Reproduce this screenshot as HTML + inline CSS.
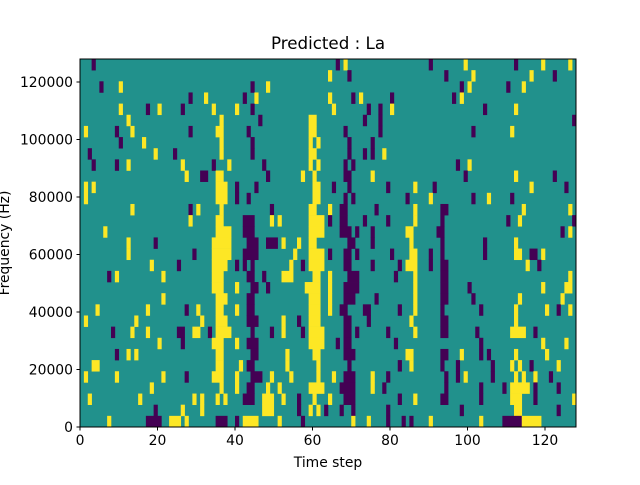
<!DOCTYPE html>
<html><head><meta charset="utf-8"><style>
body{margin:0;background:#fff;width:640px;height:480px;overflow:hidden;font-family:"Liberation Sans","DejaVu Sans",sans-serif}
svg text{font-family:"DejaVu Sans","Liberation Sans",sans-serif;fill:#000}
</style></head><body>
<svg id="s" width="640" height="480" xmlns="http://www.w3.org/2000/svg">
<rect x="0" y="0" width="640" height="480" fill="#fff"/>
<rect x="80" y="59" width="496" height="368" fill="#21918c"/>
<g id="cells"></g>
<rect x="80" y="59" width="496" height="368" fill="none" stroke="#000" stroke-width="1"/>
<g id="ticks"></g>
<text x="328" y="49" font-size="16.7" text-anchor="middle">Predicted : La</text>
<text x="328" y="467" font-size="13.9" text-anchor="middle">Time step</text>
<text transform="translate(9,243) rotate(-90)" font-size="13.9" text-anchor="middle">Frequency (Hz)</text>
</svg>
<script>
var rows=[
"d3 d66 y68 d90 y99 d112 y119 y126",
"y64 d69 d94 y101 y116 d122",
"d5 y10 d44 y48 d98 y100 d110 y114",
"d28 y32 d42 y45 y64 d70 y72 d80 d96 y98",
"y10 d17 y20 d26 y34 y40 d44 y65 d74 d77 y80 d104 y112",
"y12 y36 d46 y59-60 d73 d77 d127",
"y1 d9 y13 d28 y35-36 d43 y59-60 d68 d77 d101 y111",
"d10 y16 y36 d44 y59 y61 d69 d75",
"d2 y19 d24 y36 d44 y59-60 d69 d73 d75 y78",
"d3 d9 y12 y26 d34 y38 d47 y59 y61 d68 d70 d97 y100",
"y27 d31-32 y35-36 d48 y57 y60 d68-69 y75 d99 y112 d122",
"y1 y3 y35-37 d40 d45 y60-61 d65 d69 d79 y86 d91 y116 d125",
"y1 y35-37 d40 d43 y60-61 d68 d70 d84 y90 d101 y105 d111",
"y13 d28 y30 y36 d49 y59-60 y64 d67-68 d76 y86 d93-94 y114 y126",
"y28 y35-36 d42-44 y49 y51 y59-62 d64 d67-68 d73 d79 y86 d93 d110 y113 d127",
"y6 y35-38 d42-44 y59-62 d67-69 d71 d75 y84-85 d92-93 d124 y126",
"y12 d19 y34-38 d43-45 d48-50 y52 y56 y59-60 d69-70 d75 y85 d93 d104 y112",
"y12 d29 y34-38 d42-45 y55 y59-62 d64 d68-69 d71 d80 y85-86 d90 d93 d104 y112-113 d116-117 y119",
"y18 d25 y34-37 d40 d42 d44 y54 d57 y59-62 d68-69 d75 d82 y84-86 d90 d93-94 y115 d118",
"d7 y9 y21 y34-36 d43-44 d47 y52-54 y60-61 y64 d69-71 d81 y86 d93-94 y126",
"y34-36 y40 d44-45 d48 y58-61 y64 d68-71 y86 d93-94 d100 y119 y125-126",
"y21 y35-37 d43-44 y59-61 y64 d68-70 d76 y86 d93-94 d101 y113 y124",
"y4 y17 d27 y30 y35-36 y40 d43-44 y59-61 y64 d67-68 d73-74 d82 y86 d93 d103 y112 y120 d123 y126",
"y1 y14 y31 y35-37 d43-45 y52 d56 y59-61 d68-69 d74 y85 d93-94 y112",
"d8 y13 y17 d25-26 y29-30 d33 y35-38 d44 d49 y52 d57 y59-62 d68-69 d71 d79 y86 d93-94 d102 y111-114 d117",
"y20 d26 y34-36 y40 d43-45 y59-62 d66 d68-69 d81 d103 y119 y125",
"d9 y12 y14 y35-36 d44-45 y53 y60-61 d68-70 y84-85 d93-94 y98 d103 d105 y112 y120",
"y3-4 y35-36 y41 d43-44 y53 y61 d69 d82 y85 d93 d97 d106 y111 y113 d116 y123",
"y1 y9 y21 d27 y34-36 y40 d44-46 y49 y54 y61 y65 d68-70 y75 d79 d94 d97 y99 d106 y112 y114 y117 d121",
"y18 y36 y40 d43-44 y48 y51 y59-62 d67-70 y75 d78 d94 d103 d109 y111-115 d117 d123",
"y2 y15 y29 y31 y35 y37 d42-44 y47-49 y52 d56 y60 y64 d68-70 d82 y86 d93-94 d103 y111-113 d117 y127",
"d19 y26 y31 y47-49 d56 y59 y61 d63 d67 d70 d79 d98 y112-113 d123",
"y7 d17-20 y23-25 y27 d35-37 d40 y42-45 y51 d57 y70 y74 d79 d83 d85 y90 y103 d109-113 y114-118"
];
var g=document.getElementById('cells'),ns="http://www.w3.org/2000/svg",cw=3.875,rh=368/33,h="";
rows.forEach(function(r,i){r.split(" ").forEach(function(t){
var c=t[0]=='d'?'#440154':'#fde725',p=t.slice(1).split('-'),a=+p[0],b=p.length>1?+p[1]:a;
h+='<rect x="'+(80+a*cw)+'" y="'+(59+i*rh)+'" width="'+((b-a+1)*cw+0.3)+'" height="'+(rh+0.3)+'" fill="'+c+'"/>';});});
g.innerHTML=h;
var k="";
for(var v=0;v<=120;v+=20){var x=80+v*cw;k+='<line x1="'+x+'" y1="427" x2="'+x+'" y2="430.5" stroke="#000"/><text x="'+x+'" y="445" font-size="13.9" text-anchor="middle">'+v+'</text>';}
for(var v=0;v<=120000;v+=20000){var y=427-v/128000*368;k+='<line x1="76.5" y1="'+y+'" x2="80" y2="'+y+'" stroke="#000"/><text x="73" y="'+(y+5)+'" font-size="13.9" text-anchor="end">'+v+'</text>';}
document.getElementById('ticks').innerHTML=k;
</script>
</body></html>
